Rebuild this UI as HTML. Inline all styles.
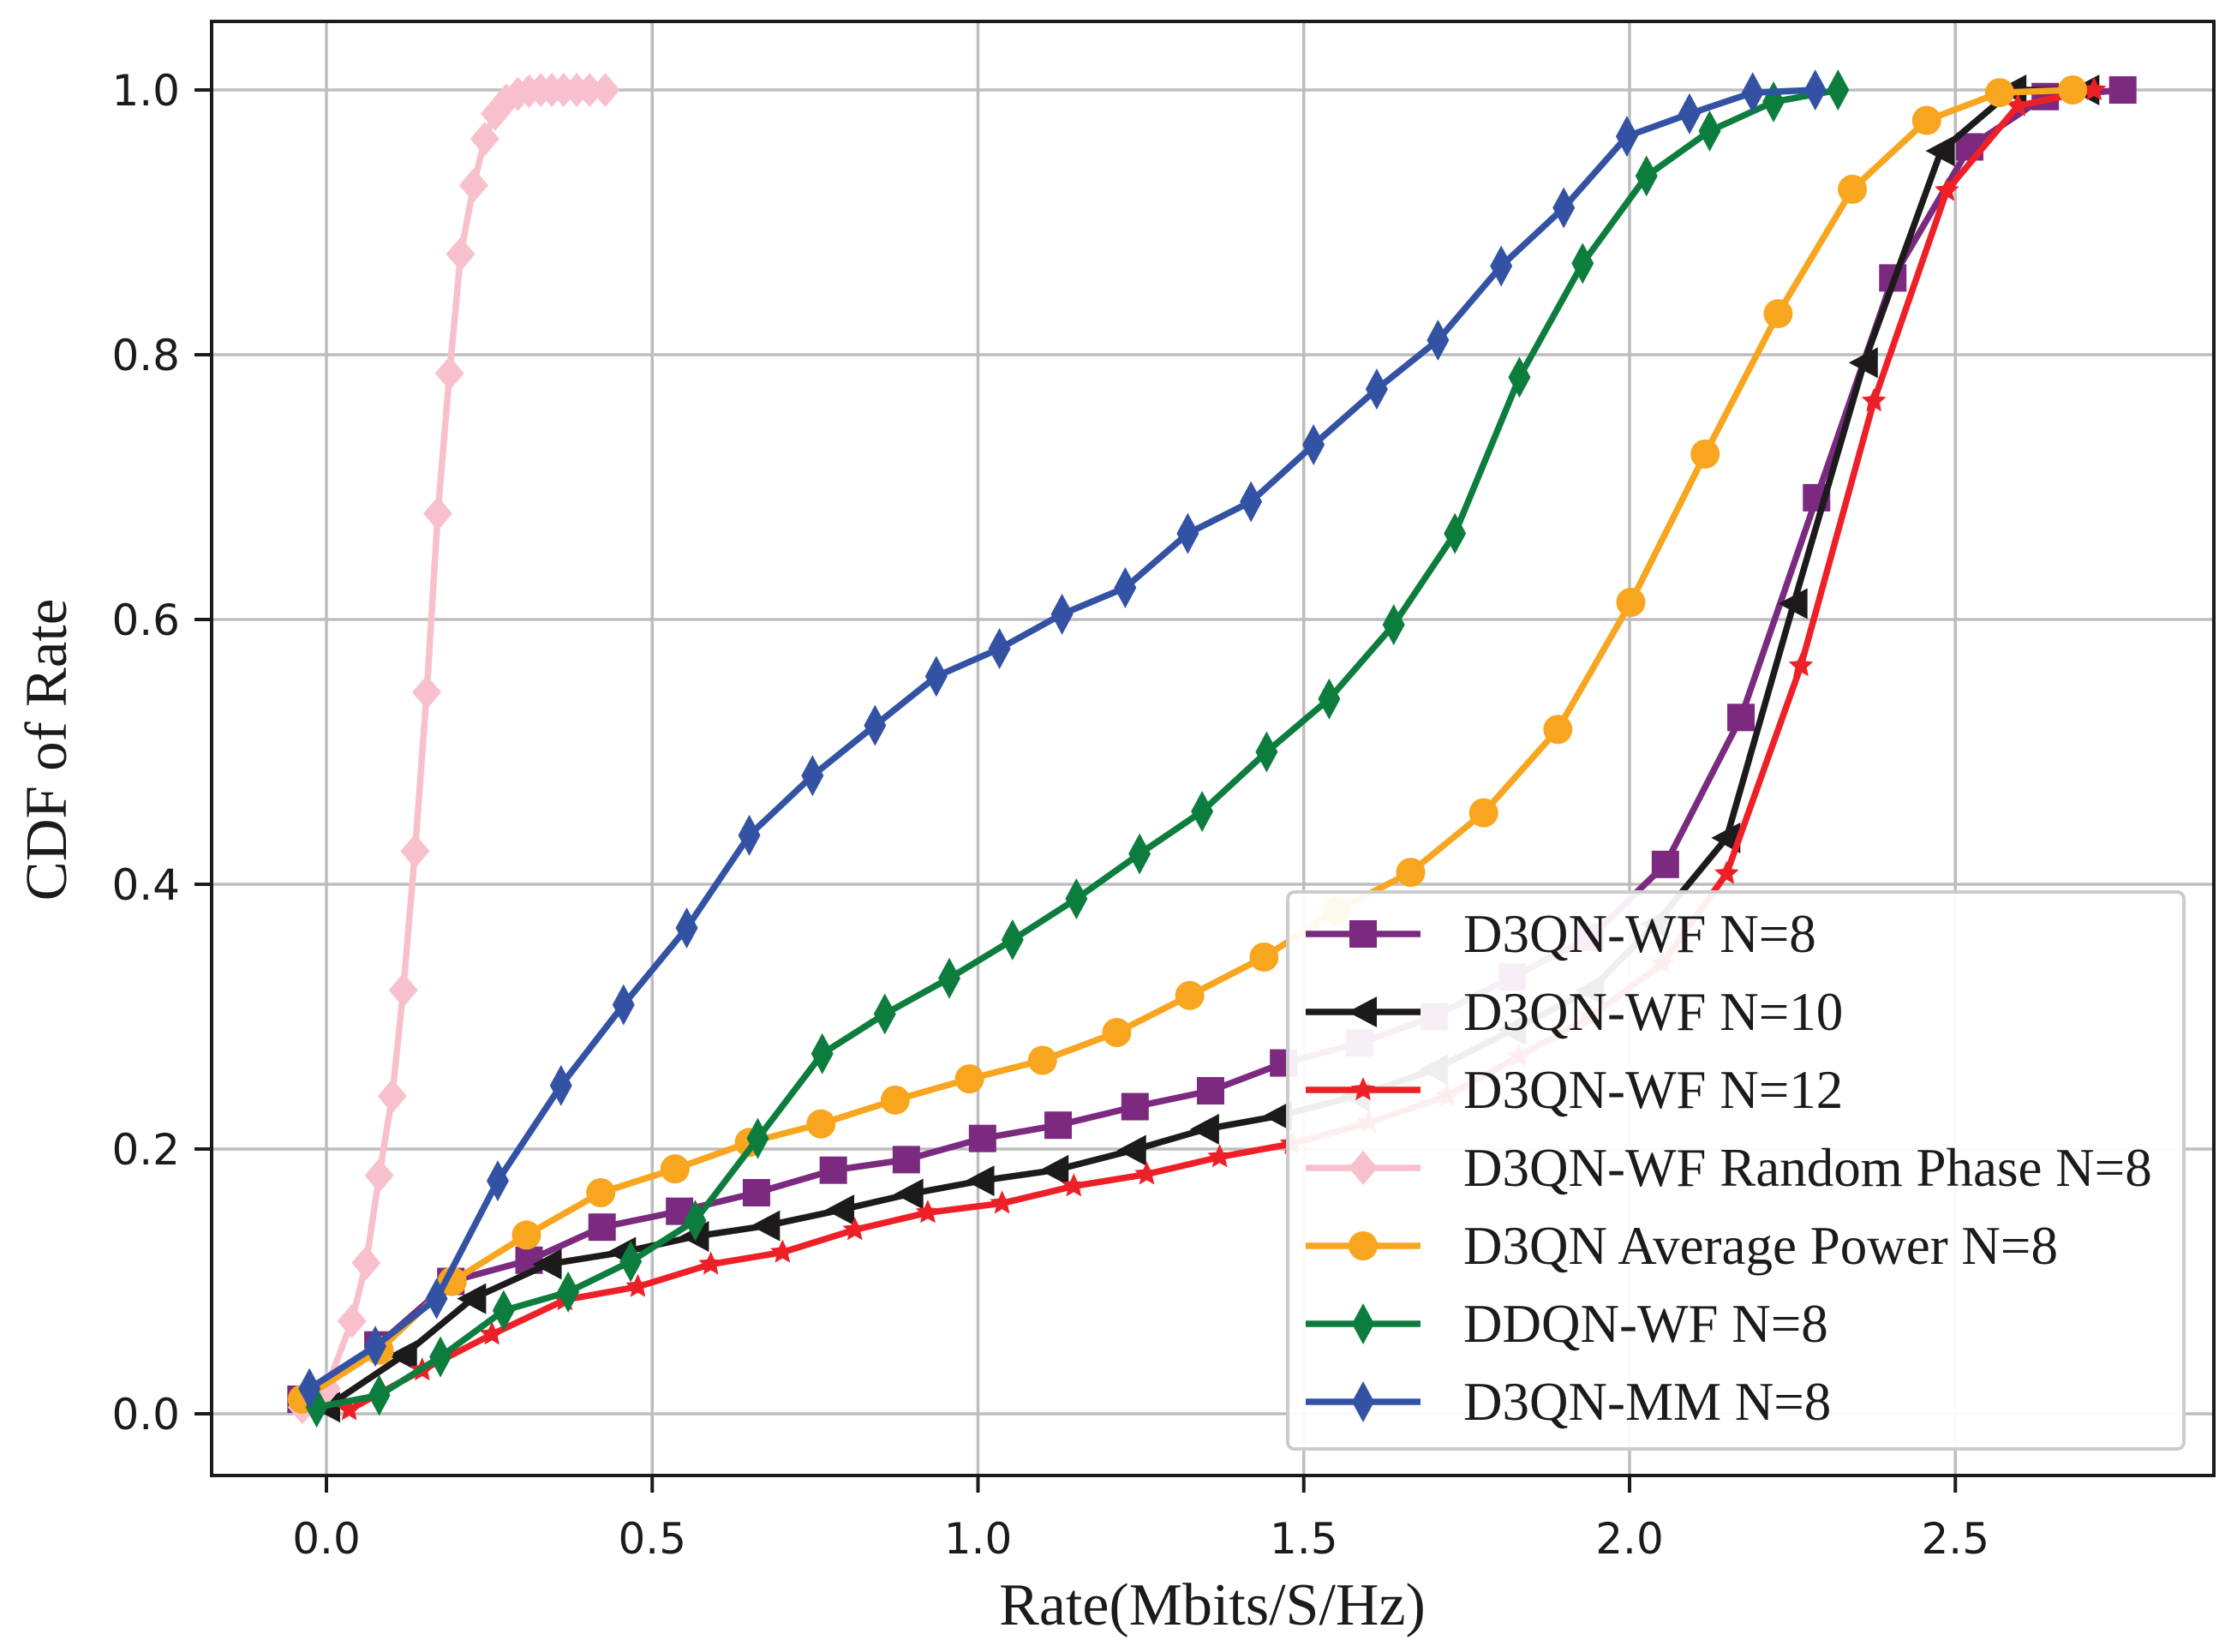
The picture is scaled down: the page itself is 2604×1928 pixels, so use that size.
<!DOCTYPE html>
<html><head><meta charset="utf-8"><style>
html,body{margin:0;padding:0;background:#fff;}
svg{display:block;}
</style></head><body>
<svg id="chart" width="2604" height="1928" xmlns="http://www.w3.org/2000/svg">
<rect width="2604" height="1928" fill="#fff"/>
<g id="grid"></g>
<g id="series"></g>
<g id="axes"></g>
<g id="legend"></g>
</svg>
<script>
const xTicks = [0.0, 0.5, 1.0, 1.5, 2.0, 2.5];
const yTicks = [0.0, 0.2, 0.4, 0.6, 0.8, 1.0];
const seriesNames = ["D3QN-WF N=8","D3QN-WF N=10","D3QN-WF N=12","D3QN-WF Random Phase N=8","D3QN Average Power N=8","DDQN-WF N=8","D3QN-MM N=8"];
const purpleX = [-0.039,0.079,0.191,0.311,0.423,0.542,0.660,0.778,0.890,1.007,1.123,1.241,1.357,1.469,1.586,1.70,1.82,1.94,2.055,2.171,2.287,2.404,2.522,2.638,2.757];
const purpleY = [0.011,0.052,0.100,0.116,0.141,0.153,0.167,0.184,0.192,0.208,0.218,0.232,0.244,0.265,0.28,0.30,0.33,0.36,0.415,0.526,0.692,0.858,0.957,0.995,1.0];
const blackX = [0.0,0.118,0.224,0.340,0.454,0.566,0.675,0.789,0.895,1.004,1.118,1.237,1.349,1.461,1.58,1.70,1.82,1.94,2.04,2.149,2.252,2.360,2.478,2.588,2.700];
const blackY = [0.005,0.044,0.087,0.113,0.122,0.134,0.142,0.154,0.166,0.176,0.184,0.199,0.215,0.225,0.24,0.26,0.29,0.32,0.37,0.435,0.612,0.794,0.954,1.0,1.0];
const redX = [0.035,0.147,0.254,0.366,0.478,0.590,0.700,0.811,0.923,1.037,1.147,1.259,1.371,1.482,1.60,1.72,1.83,1.94,2.05,2.149,2.263,2.375,2.487,2.596,2.713];
const redY = [0.003,0.033,0.060,0.086,0.096,0.113,0.122,0.139,0.152,0.159,0.172,0.181,0.194,0.204,0.22,0.24,0.27,0.30,0.34,0.408,0.565,0.765,0.924,0.988,1.0];
const pinkX = [-0.037,0.0,0.039,0.061,0.081,0.101,0.118,0.136,0.154,0.171,0.189,0.206,0.226,0.243,0.259,0.276,0.294,0.311,0.329,0.346,0.364,0.384,0.404,0.428];
const pinkY = [0.005,0.019,0.070,0.114,0.180,0.240,0.320,0.425,0.545,0.680,0.786,0.876,0.928,0.963,0.982,0.992,0.997,0.999,1.0,1.0,1.0,1.0,1.0,1.0];
const orangeX = [-0.037,0.081,0.193,0.307,0.421,0.535,0.649,0.759,0.873,0.987,1.099,1.213,1.325,1.439,1.55,1.664,1.776,1.890,2.002,2.116,2.228,2.342,2.456,2.568,2.680];
const orangeY = [0.011,0.048,0.100,0.135,0.167,0.185,0.205,0.219,0.237,0.253,0.267,0.288,0.316,0.345,0.38,0.409,0.454,0.517,0.613,0.725,0.831,0.925,0.977,0.998,1.0];
const greenX = [-0.015,0.081,0.175,0.272,0.371,0.467,0.566,0.662,0.761,0.857,0.956,1.053,1.151,1.248,1.344,1.443,1.539,1.638,1.732,1.831,1.928,2.026,2.123,2.221,2.320];
const greenY = [0.005,0.014,0.043,0.078,0.092,0.115,0.146,0.208,0.272,0.302,0.329,0.358,0.389,0.423,0.455,0.500,0.540,0.596,0.665,0.783,0.869,0.935,0.969,0.991,1.0];
const blueX = [-0.026,0.075,0.169,0.263,0.360,0.456,0.553,0.649,0.746,0.842,0.936,1.033,1.129,1.226,1.322,1.419,1.515,1.612,1.706,1.803,1.899,1.996,2.092,2.189,2.285];
const blueY = [0.019,0.051,0.087,0.176,0.248,0.309,0.367,0.437,0.482,0.520,0.557,0.578,0.604,0.624,0.665,0.689,0.732,0.774,0.811,0.867,0.911,0.965,0.982,0.998,1.0];

const NS = "http://www.w3.org/2000/svg";
const L = 247, R = 2584, T = 25, B = 1722;
function sx(v){ return 381 + v * 760.5; }
function sy(v){ return 1650 - v * 1545; }
function mk(tag, attrs, parent){ const e = document.createElementNS(NS, tag); for (const k in attrs) e.setAttribute(k, attrs[k]); parent.appendChild(e); return e; }

const grid = document.getElementById('grid');
xTicks.forEach(t => {
  const g = mk('line', {x1: sx(t), x2: sx(t), y1: T, y2: B, stroke: '#bdbdbd', 'stroke-width': 3.5}, grid);
  
  
});
yTicks.forEach(t => {
  const g = mk('line', {x1: L, x2: R, y1: sy(t), y2: sy(t), stroke: '#bdbdbd', 'stroke-width': 3.5}, grid);
  
  
});

function marker(type, x, y, color, parent){
  let e;
  if (type === 's') e = mk('rect', {x: x-16, y: y-16, width: 32, height: 32, fill: color}, parent);
  else if (type === 'o') e = mk('circle', {cx: x, cy: y, r: 17, fill: color}, parent);
  else if (type === '<') e = mk('polygon', {points: `${x-18},${y} ${x+16},${y-18} ${x+16},${y+18}`, fill: color}, parent);
  else if (type === 'D') e = mk('polygon', {points: `${x},${y-20} ${x+17},${y} ${x},${y+20} ${x-17},${y}`, fill: color}, parent);
  else if (type === 'd') e = mk('polygon', {points: `${x},${y-24} ${x+13},${y} ${x},${y+24} ${x-13},${y}`, fill: color}, parent);
  else if (type === '*') {
    let p = [];
    for (let i = 0; i < 10; i++) { const a = -Math.PI/2 + i*Math.PI/5; const r = i%2 ? 7 : 15; p.push((x + r*Math.cos(a)).toFixed(1) + ',' + (y + r*Math.sin(a)).toFixed(1)); }
    e = mk('polygon', {points: p.join(' '), fill: color}, parent);
  }
  return e;
}

const specs = [
  {xs: purpleX, ys: purpleY, c: '#7b2a80', m: 's', key: 'd3qn-wf-n8'},
  {xs: blackX, ys: blackY, c: '#1c1a1a', m: '<', key: 'd3qn-wf-n10'},
  {xs: redX, ys: redY, c: '#ee2027', m: '*', key: 'd3qn-wf-n12'},
  {xs: pinkX, ys: pinkY, c: '#f8c0cc', m: 'D', key: 'd3qn-wf-random-phase'},
  {xs: orangeX, ys: orangeY, c: '#f8a51f', m: 'o', key: 'd3qn-average-power'},
  {xs: greenX, ys: greenY, c: '#0d7d3e', m: 'd', key: 'ddqn-wf-n8'},
  {xs: blueX, ys: blueY, c: '#3452a4', m: 'd', key: 'd3qn-mm-n8'}
];
const sg = document.getElementById('series');
specs.forEach(s => {
  const g = mk('g', {}, sg);
  
  
  const pts = s.xs.map((v, i) => sx(v).toFixed(1) + ',' + sy(s.ys[i]).toFixed(1)).join(' ');
  const pl = mk('polyline', {points: pts, fill: 'none', stroke: s.c, 'stroke-width': 7.5, 'stroke-linejoin': 'round'}, g);
  
  
  s.xs.forEach((v, i) => {
    const e = marker(s.m, sx(v), sy(s.ys[i]), s.c, g);
    
    
  });
});

const ax = document.getElementById('axes');
const frame = mk('rect', {x: L, y: T, width: R-L, height: B-T, fill: 'none', stroke: '#1c1a1a', 'stroke-width': 4}, ax);


xTicks.forEach(t => {
  const tk = mk('line', {x1: sx(t), x2: sx(t), y1: B, y2: B+20, stroke: '#1c1a1a', 'stroke-width': 4}, ax);
  
  
  const tx = mk('text', {x: sx(t), y: 1813, 'text-anchor': 'middle', 'font-family': 'DejaVu Sans, sans-serif', 'font-size': 50, fill: '#1c1a1a'}, ax);
  tx.textContent = t.toFixed(1);
  
  
});
yTicks.forEach(t => {
  const tk = mk('line', {x1: L-20, x2: L, y1: sy(t), y2: sy(t), stroke: '#1c1a1a', 'stroke-width': 4}, ax);
  
  
  const tx = mk('text', {x: 210, y: sy(t) + 18, 'text-anchor': 'end', 'font-family': 'DejaVu Sans, sans-serif', 'font-size': 50, fill: '#1c1a1a'}, ax);
  tx.textContent = t.toFixed(1);
  
  
});
const xt = mk('text', {x: 1415, y: 1896, 'text-anchor': 'middle', 'font-family': 'Liberation Serif, serif', 'font-size': 70, fill: '#1c1a1a'}, ax);
xt.textContent = 'Rate(Mbits/S/Hz)';


const yt = mk('text', {x: 0, y: 0, 'text-anchor': 'middle', 'font-family': 'Liberation Serif, serif', 'font-size': 69, fill: '#1c1a1a', transform: 'translate(77,875) rotate(-90)'}, ax);
yt.textContent = 'CDF of Rate';



const lg = document.getElementById('legend');
const box = mk('rect', {x: 1503, y: 1041, width: 1046, height: 650, rx: 8, fill: 'rgba(255,255,255,0.93)', stroke: '#cccccc', 'stroke-width': 4}, lg);


specs.forEach((s, i) => {
  const y = 1090 + i * 91;
  const g = mk('g', {}, lg);
  
  
  mk('line', {x1: 1524, x2: 1658, y1: y, y2: y, stroke: s.c, 'stroke-width': 7.5}, g);
  marker(s.m, 1591, y, s.c, g);
  const tx = mk('text', {x: 1708, y: y + 21, 'font-family': 'Liberation Serif, serif', 'font-size': 63, fill: '#1c1a1a'}, g);
  tx.textContent = seriesNames[i];
});
</script>
</body></html>
